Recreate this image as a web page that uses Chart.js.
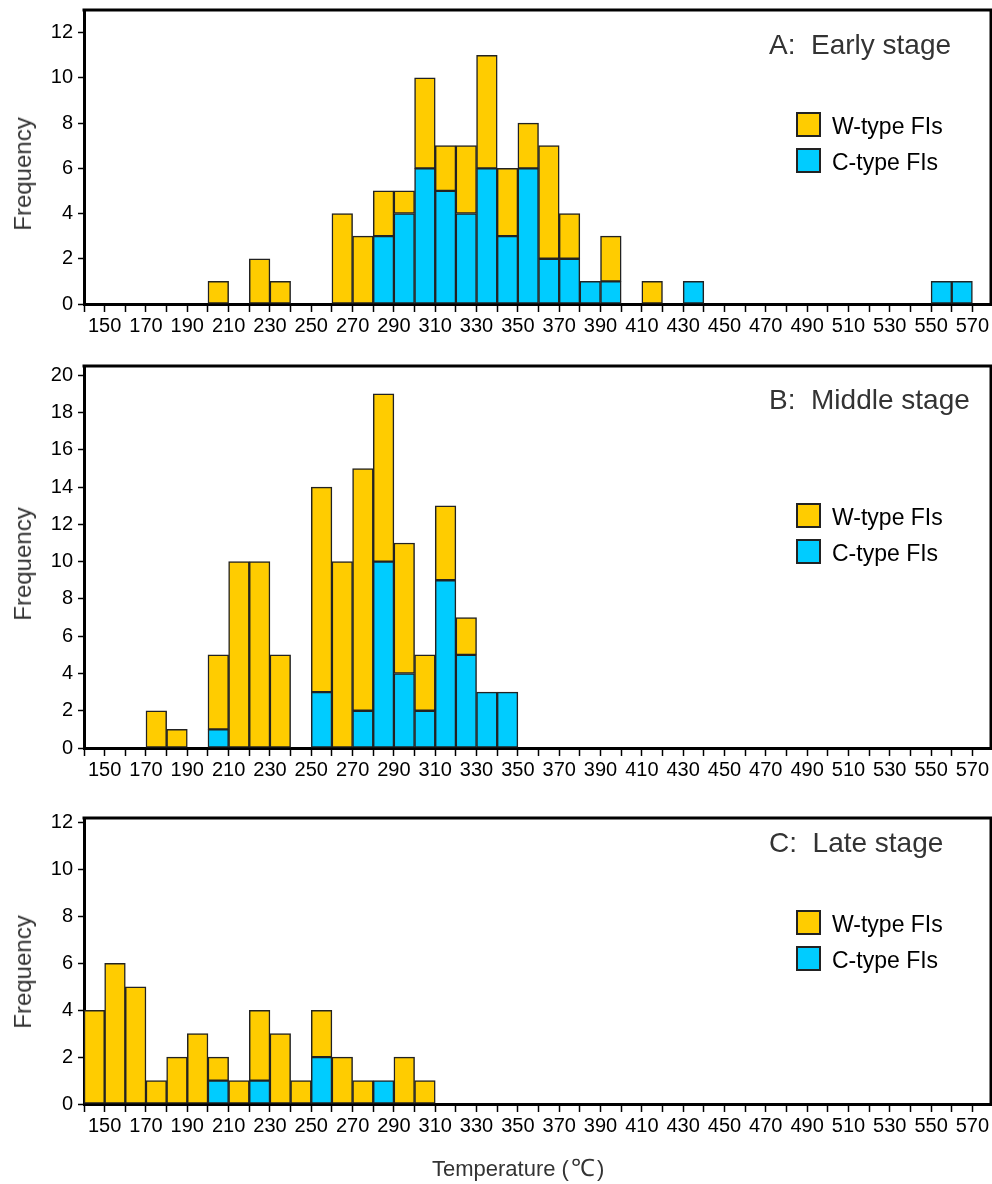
<!DOCTYPE html>
<html>
<head>
<meta charset="utf-8">
<script src="https://cdn.jsdelivr.net/npm/chart.js@4.4.1/dist/chart.umd.min.js"></script>
<style>
  body { margin: 0; background: #fff; font-family: "Liberation Sans", Arial, sans-serif; }
  #wrap { position: relative; width: 992px; height: 1184px; overflow: hidden; }
  .panel { position: absolute; left: 0; width: 992px; }
  .panel canvas { position: absolute; left: 0; top: 0; }
  .stage { position: absolute; left: 769px; font-size: 28px; line-height: 28px; color: #333; white-space: nowrap; }
  .legend { position: absolute; left: 796px; font-size: 23px; color: #000; }
  .legend .row { display: flex; align-items: center; height: 25px; margin-bottom: 11px; white-space: nowrap; }
  .legend .box { width: 25px; height: 25px; box-sizing: border-box; border: 2px solid #222; margin-right: 11px; }
  .legend .txt { line-height: 25px; padding-top: 3px; }
  .ytitle { position: absolute; left: 23px; font-size: 24px; line-height: 24px; color: #333; white-space: nowrap;
            transform: translate(-50%, -50%) rotate(-90deg); }
  .xtitle { position: absolute; left: 432px; font-size: 22px; line-height: 22px; color: #333; white-space: nowrap; }
  .xtitle .deg { font-size: 24px; padding: 0 2px; }
</style>
</head>
<body>
<div id="wrap">
  <div class="panel" id="pA" style="top:0;height:345px">
    <canvas id="chartA" width="992" height="345"></canvas>
    <div class="ytitle" style="top:174px">Frequency</div>
    <div class="stage" style="top:31px">A:&nbsp; Early stage</div>
    <div class="legend" style="top:112px">
      <div class="row"><div class="box" style="background:#FFCC00"></div><span class="txt">W-type FIs</span></div>
      <div class="row"><div class="box" style="background:#00CCFF"></div><span class="txt">C-type FIs</span></div>
    </div>
  </div>
  <div class="panel" id="pB" style="top:345px;height:445px">
    <canvas id="chartB" width="992" height="445"></canvas>
    <div class="ytitle" style="top:219px">Frequency</div>
    <div class="stage" style="top:41px">B:&nbsp; Middle stage</div>
    <div class="legend" style="top:158px">
      <div class="row"><div class="box" style="background:#FFCC00"></div><span class="txt">W-type FIs</span></div>
      <div class="row"><div class="box" style="background:#00CCFF"></div><span class="txt">C-type FIs</span></div>
    </div>
  </div>
  <div class="panel" id="pC" style="top:790px;height:394px">
    <canvas id="chartC" width="992" height="394"></canvas>
    <div class="ytitle" style="top:182px">Frequency</div>
    <div class="stage" style="top:39px">C:&nbsp; Late stage</div>
    <div class="legend" style="top:120px">
      <div class="row"><div class="box" style="background:#FFCC00"></div><span class="txt">W-type FIs</span></div>
      <div class="row"><div class="box" style="background:#00CCFF"></div><span class="txt">C-type FIs</span></div>
    </div>
    <div class="xtitle" style="top:367px">Temperature (<span class="deg">℃</span>)</div>
  </div>
</div>
<script>
// bin lower edges, 10 degC bins
const binStarts = [140, 150, 160, 170, 180, 190, 200, 210, 220, 230, 240, 250, 260, 270, 280,
  290, 300, 310, 320, 330, 340, 350, 360, 370, 380, 390, 400, 410, 420, 430, 440,
  450, 460, 470, 480, 490, 500, 510, 520, 530, 540, 550, 560, 570];
const xLabels = [150, 170, 190, 210, 230, 250, 270, 290, 310, 330, 350, 370, 390,
  410, 430, 450, 470, 490, 510, 530, 550, 570];

// A: early stage
const earlyW = [0, 0, 0, 0, 0, 0, 1, 0, 2, 1, 0, 0, 4, 3, 2, 1, 4, 2, 3, 5, 3, 2, 5, 2, 0, 2, 0, 1,
  0, 0, 0, 0, 0, 0, 0, 0, 0, 0, 0, 0, 0, 0, 0, 0];
const earlyC = [0, 0, 0, 0, 0, 0, 0, 0, 0, 0, 0, 0, 0, 0, 3, 4, 6, 5, 4, 6, 3, 6, 2, 2, 1, 1, 0, 0,
  0, 1, 0, 0, 0, 0, 0, 0, 0, 0, 0, 0, 0, 1, 1, 0];
const earlyTicks = [0, 2, 4, 6, 8, 10, 12];

// B: middle stage
const middleW = [0, 0, 0, 2, 1, 0, 4, 10, 10, 5, 0, 11, 10, 13, 9, 7, 3, 4, 2, 0, 0, 0, 0, 0, 0, 0, 0, 0,
  0, 0, 0, 0, 0, 0, 0, 0, 0, 0, 0, 0, 0, 0, 0, 0];
const middleC = [0, 0, 0, 0, 0, 0, 1, 0, 0, 0, 0, 3, 0, 2, 10, 4, 2, 9, 5, 3, 3, 0, 0, 0, 0, 0, 0, 0,
  0, 0, 0, 0, 0, 0, 0, 0, 0, 0, 0, 0, 0, 0, 0, 0];
const middleTicks = [0, 2, 4, 6, 8, 10, 12, 14, 16, 18, 20];

// C: late stage
const lateW = [4, 6, 5, 1, 2, 3, 1, 1, 3, 3, 1, 2, 2, 1, 0, 2, 1, 0, 0, 0, 0, 0, 0, 0, 0, 0, 0, 0,
  0, 0, 0, 0, 0, 0, 0, 0, 0, 0, 0, 0, 0, 0, 0, 0];
const lateC = [0, 0, 0, 0, 0, 0, 1, 0, 1, 0, 0, 2, 0, 0, 1, 0, 0, 0, 0, 0, 0, 0, 0, 0, 0, 0, 0, 0,
  0, 0, 0, 0, 0, 0, 0, 0, 0, 0, 0, 0, 0, 0, 0, 0];
const lateTicks = [0, 2, 4, 6, 8, 10, 12];

const FONT = '"Liberation Sans", Arial, sans-serif';
const GOLD = '#FFCC00';
const CYAN = '#00CCFF';

// top + right edge of the box
const frame = {
  id: 'frame',
  afterDraw(chart) {
    const { ctx, chartArea: a } = chart;
    ctx.save();
    ctx.strokeStyle = '#000';
    ctx.lineWidth = 3;
    ctx.beginPath();
    ctx.moveTo(a.left - 1.5, a.top);
    ctx.lineTo(a.right, a.top);
    ctx.lineTo(a.right, a.bottom);
    ctx.stroke();
    ctx.restore();
  }
};

function bars(label, values, color) {
  return {
    label: label,
    // empty bins -> null so no zero-height outline is drawn
    data: binStarts.map((b, i) => ({ x: b + 5, y: values[i] || null })),
    backgroundColor: color,
    borderColor: '#222',
    borderWidth: 1.5,
    borderSkipped: false,
    barPercentage: 1,
    categoryPercentage: 1
  };
}

function makePanel(id, w, c, yTicks, yMax, top, xH) {
  return new Chart(document.getElementById(id), {
    type: 'bar',
    data: {
      datasets: [bars('C-type FIs', c, CYAN), bars('W-type FIs', w, GOLD)]
    },
    options: {
      responsive: false,
      animation: false,
      layout: { padding: { top: top, right: 1, left: 0, bottom: 0 } },
      plugins: { legend: { display: false }, tooltip: { enabled: false } },
      scales: {
        x: {
          type: 'linear',
          min: 140,
          max: 579,
          stacked: true,
          offset: false,
          z: 1,
          afterBuildTicks: (s) => { s.ticks = binStarts.map(v => ({ value: v })); },
          afterFit: (s) => { s.height = xH; s.paddingLeft = 0; s.paddingRight = 0; },
          border: { display: true, width: 3, color: '#000' },
          grid: { offset: false, drawOnChartArea: false, drawTicks: true, tickLength: 8, tickWidth: 1.5, tickColor: '#000' },
          ticks: {
            autoSkip: false,
            maxRotation: 0,
            minRotation: 0,
            padding: 2,
            color: '#000',
            font: { size: 20, family: FONT },
            callback: (v) => xLabels.includes(v) ? String(v) : ''
          }
        },
        y: {
          min: 0,
          max: yMax,
          stacked: true,
          z: 1,
          afterBuildTicks: (s) => { s.ticks = yTicks.map(v => ({ value: v })); },
          afterFit: (s) => { s.width = 84; s.paddingTop = 0; s.paddingBottom = 0; },
          border: { display: true, width: 3, color: '#000' },
          grid: { drawOnChartArea: false, drawTicks: true, tickLength: 6, tickWidth: 1.5, tickColor: '#000' },
          ticks: {
            padding: 5,
            color: '#000',
            font: { size: 20, family: FONT }
          }
        }
      }
    },
    plugins: [frame]
  });
}

makePanel('chartA', earlyW, earlyC, earlyTicks, 13, 10, 41);
makePanel('chartB', middleW, middleC, middleTicks, 20.5, 21, 42);
makePanel('chartC', lateW, lateC, lateTicks, 12.2, 28, 80);
</script>
</body>
</html>
